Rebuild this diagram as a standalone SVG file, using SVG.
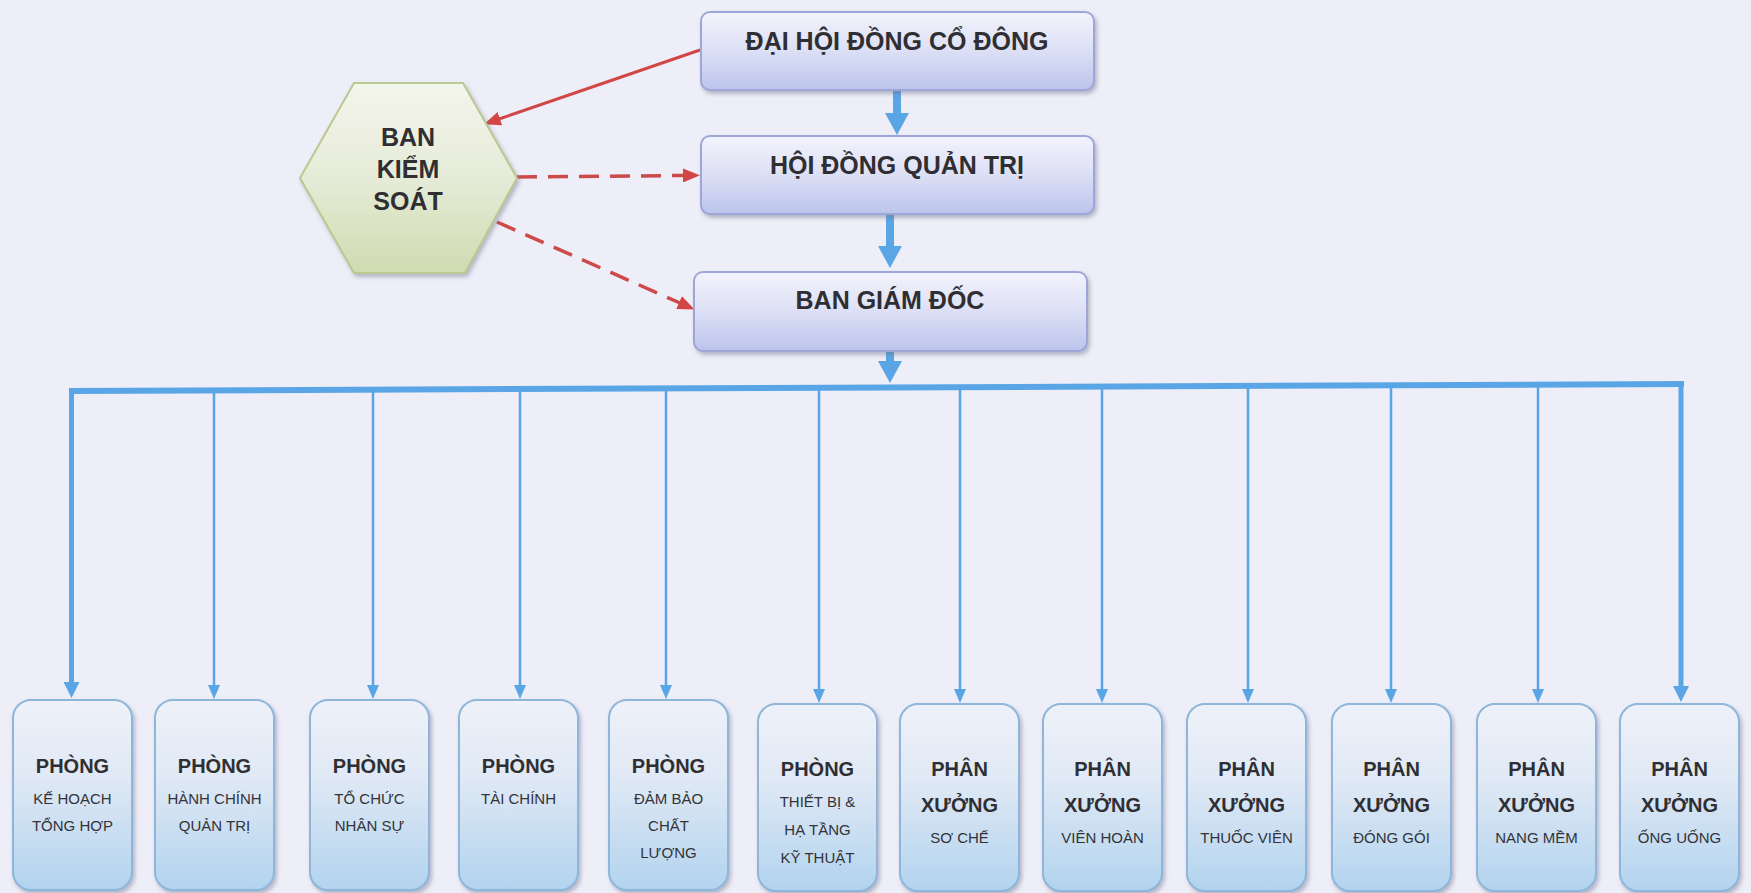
<svg xmlns="http://www.w3.org/2000/svg" width="1751" height="893" viewBox="0 0 1751 893">
<defs>
<style>
.bg{fill:#eeeef8}
.top{fill:url(#gTop);stroke:#9ea6d8;stroke-width:2;filter:url(#sh)}
.bot{fill:url(#gBot);stroke:#8db6da;stroke-width:2;filter:url(#sh)}
.hex{fill:url(#gHex);stroke:#b9c98f;stroke-width:2;filter:url(#sh)}
.t1{font-family:"Liberation Sans",Arial,sans-serif;font-weight:bold;font-size:25px;fill:#2f2f33;text-anchor:middle}
.t2{font-family:"Liberation Sans",Arial,sans-serif;font-weight:bold;font-size:20px;fill:#2f2f33;text-anchor:middle}
.t3{font-family:"Liberation Sans",Arial,sans-serif;font-size:15px;fill:#333338;text-anchor:middle}
.bl{stroke:#5aa5e6;fill:none}
.rd{stroke:#d24646;stroke-width:3;fill:none}
.rdd{stroke:#cc4a4a;stroke-width:3.5;fill:none;stroke-dasharray:20 11}
</style>
<linearGradient id="gTop" x1="0" y1="0" x2="0" y2="1">
<stop offset="0" stop-color="#f2f3fc"/><stop offset="0.45" stop-color="#dfe2f6"/><stop offset="1" stop-color="#bcc4ec"/>
</linearGradient>
<linearGradient id="gBot" x1="0" y1="0" x2="0" y2="1">
<stop offset="0" stop-color="#eef1f9"/><stop offset="0.4" stop-color="#e0e9f5"/><stop offset="1" stop-color="#b2d3ee"/>
</linearGradient>
<linearGradient id="gHex" x1="0" y1="0" x2="0" y2="1">
<stop offset="0" stop-color="#f4f5ec"/><stop offset="0.5" stop-color="#e6ebd8"/><stop offset="1" stop-color="#cfdbb0"/>
</linearGradient>
<filter id="sh" x="-10%" y="-10%" width="125%" height="125%">
<feDropShadow dx="2" dy="3" stdDeviation="2" flood-color="#6b6f86" flood-opacity="0.45"/>
</filter>
<marker id="mBig" markerUnits="userSpaceOnUse" markerWidth="22" markerHeight="24" refX="1" refY="12" orient="auto" viewBox="0 0 22 24">
<path d="M0,0 L22,12 L0,24 z" fill="#5aa5e6"/>
</marker>
<marker id="mMid" markerUnits="userSpaceOnUse" markerWidth="16" markerHeight="16" refX="1" refY="8" orient="auto" viewBox="0 0 16 16">
<path d="M0,0 L16,8 L0,16 z" fill="#5aa5e6"/>
</marker>
<marker id="mSm" markerUnits="userSpaceOnUse" markerWidth="14" markerHeight="12" refX="1" refY="6" orient="auto" viewBox="0 0 14 12">
<path d="M0,0 L14,6 L0,12 z" fill="#5aa5e6"/>
</marker>
<marker id="mRed" markerUnits="userSpaceOnUse" markerWidth="17" markerHeight="14" refX="1" refY="7" orient="auto" viewBox="0 0 17 14">
<path d="M0,0 L17,7 L0,14 z" fill="#d24646"/>
</marker>
</defs>
<rect class="bg" x="0" y="0" width="1751" height="893"/>

<g id="connectors">
<line class="rd" x1="700" y1="50" x2="499" y2="119" marker-end="url(#mRed)"/>
<line class="rdd" x1="517" y1="177" x2="684" y2="175.5" marker-end="url(#mRed)"/>
<line class="rdd" x1="497" y1="222" x2="680" y2="303" marker-end="url(#mRed)"/>
<line class="bl" stroke-width="8" x1="897" y1="90" x2="897" y2="114" marker-end="url(#mBig)"/>
<line class="bl" stroke-width="8" x1="890" y1="215" x2="890" y2="247" marker-end="url(#mBig)"/>
<line class="bl" stroke-width="8" x1="890" y1="351" x2="890" y2="362" marker-end="url(#mBig)"/>
<line class="bl" stroke-width="6" x1="69" y1="391" x2="1684" y2="384"/>
<line class="bl" stroke-width="5" x1="71.5" y1="389" x2="71.5" y2="683" marker-end="url(#mMid)"/>
<line class="bl" stroke-width="2.5" x1="214" y1="390" x2="214" y2="686" marker-end="url(#mSm)"/>
<line class="bl" stroke-width="2.5" x1="373" y1="390" x2="373" y2="686" marker-end="url(#mSm)"/>
<line class="bl" stroke-width="2.5" x1="520" y1="389" x2="520" y2="686" marker-end="url(#mSm)"/>
<line class="bl" stroke-width="2.5" x1="666" y1="388" x2="666" y2="686" marker-end="url(#mSm)"/>
<line class="bl" stroke-width="2.5" x1="819" y1="388" x2="819" y2="690" marker-end="url(#mSm)"/>
<line class="bl" stroke-width="2.5" x1="960" y1="387" x2="960" y2="690" marker-end="url(#mSm)"/>
<line class="bl" stroke-width="2.5" x1="1102" y1="387" x2="1102" y2="690" marker-end="url(#mSm)"/>
<line class="bl" stroke-width="2.5" x1="1248" y1="386" x2="1248" y2="690" marker-end="url(#mSm)"/>
<line class="bl" stroke-width="2.5" x1="1391" y1="386" x2="1391" y2="690" marker-end="url(#mSm)"/>
<line class="bl" stroke-width="2.5" x1="1538" y1="385" x2="1538" y2="690" marker-end="url(#mSm)"/>
<line class="bl" stroke-width="5" x1="1681" y1="382" x2="1681" y2="687" marker-end="url(#mMid)"/>
</g>

<g id="dhdcd">
<rect class="top" x="701" y="12" width="393" height="78" rx="9"/>
<text class="t1" x="897" y="50">ĐẠI HỘI ĐỒNG CỔ ĐÔNG</text>
</g>
<g id="hdqt">
<rect class="top" x="701" y="136" width="393" height="78" rx="9"/>
<text class="t1" x="897" y="174">HỘI ĐỒNG QUẢN TRỊ</text>
</g>
<g id="bgd">
<rect class="top" x="694" y="272" width="393" height="79" rx="9"/>
<text class="t1" x="890" y="309">BAN GIÁM ĐỐC</text>
</g>
<g id="bks">
<polygon class="hex" points="300,178 354,83 463,83 517,178 465,273 354,273"/>
<text class="t1" x="408" y="146">BAN</text>
<text class="t1" x="408" y="178">KIỂM</text>
<text class="t1" x="408" y="210">SOÁT</text>
</g>

<g id="p1">
<rect class="bot" x="13" y="700" width="119" height="190" rx="18"/>
<text class="t2" x="72.5" y="773">PHÒNG</text>
<text class="t3" x="72.5" y="804">KẾ HOẠCH</text>
<text class="t3" x="72.5" y="831">TỔNG HỢP</text>
</g>
<g id="p2">
<rect class="bot" x="155" y="700" width="119" height="190" rx="18"/>
<text class="t2" x="214.5" y="773">PHÒNG</text>
<text class="t3" x="214.5" y="804">HÀNH CHÍNH</text>
<text class="t3" x="214.5" y="831">QUẢN TRỊ</text>
</g>
<g id="p3">
<rect class="bot" x="310" y="700" width="119" height="190" rx="18"/>
<text class="t2" x="369.5" y="773">PHÒNG</text>
<text class="t3" x="369.5" y="804">TỔ CHỨC</text>
<text class="t3" x="369.5" y="831">NHÂN SỰ</text>
</g>
<g id="p4">
<rect class="bot" x="459" y="700" width="119" height="190" rx="18"/>
<text class="t2" x="518.5" y="773">PHÒNG</text>
<text class="t3" x="518.5" y="804">TÀI CHÍNH</text>
</g>
<g id="p5">
<rect class="bot" x="609" y="700" width="119" height="190" rx="18"/>
<text class="t2" x="668.5" y="773">PHÒNG</text>
<text class="t3" x="668.5" y="804">ĐẢM BẢO</text>
<text class="t3" x="668.5" y="831">CHẤT</text>
<text class="t3" x="668.5" y="858">LƯỢNG</text>
</g>
<g id="p6">
<rect class="bot" x="758" y="704" width="119" height="187" rx="18"/>
<text class="t2" x="817.5" y="776">PHÒNG</text>
<text class="t3" x="817.5" y="807">THIẾT BỊ &amp;</text>
<text class="t3" x="817.5" y="835">HẠ TẦNG</text>
<text class="t3" x="817.5" y="863">KỸ THUẬT</text>
</g>
<g id="x1">
<rect class="bot" x="900" y="704" width="119" height="187" rx="18"/>
<text class="t2" x="959.5" y="776">PHÂN</text>
<text class="t2" x="959.5" y="812">XƯỞNG</text>
<text class="t3" x="959.5" y="843">SƠ CHẾ</text>
</g>
<g id="x2">
<rect class="bot" x="1043" y="704" width="119" height="187" rx="18"/>
<text class="t2" x="1102.5" y="776">PHÂN</text>
<text class="t2" x="1102.5" y="812">XƯỞNG</text>
<text class="t3" x="1102.5" y="843">VIÊN HOÀN</text>
</g>
<g id="x3">
<rect class="bot" x="1187" y="704" width="119" height="187" rx="18"/>
<text class="t2" x="1246.5" y="776">PHÂN</text>
<text class="t2" x="1246.5" y="812">XƯỞNG</text>
<text class="t3" x="1246.5" y="843">THUỐC VIÊN</text>
</g>
<g id="x4">
<rect class="bot" x="1332" y="704" width="119" height="187" rx="18"/>
<text class="t2" x="1391.5" y="776">PHÂN</text>
<text class="t2" x="1391.5" y="812">XƯỞNG</text>
<text class="t3" x="1391.5" y="843">ĐÓNG GÓI</text>
</g>
<g id="x5">
<rect class="bot" x="1477" y="704" width="119" height="187" rx="18"/>
<text class="t2" x="1536.5" y="776">PHÂN</text>
<text class="t2" x="1536.5" y="812">XƯỞNG</text>
<text class="t3" x="1536.5" y="843">NANG MỀM</text>
</g>
<g id="x6">
<rect class="bot" x="1620" y="704" width="119" height="187" rx="18"/>
<text class="t2" x="1679.5" y="776">PHÂN</text>
<text class="t2" x="1679.5" y="812">XƯỞNG</text>
<text class="t3" x="1679.5" y="843">ỐNG UỐNG</text>
</g>
</svg>
